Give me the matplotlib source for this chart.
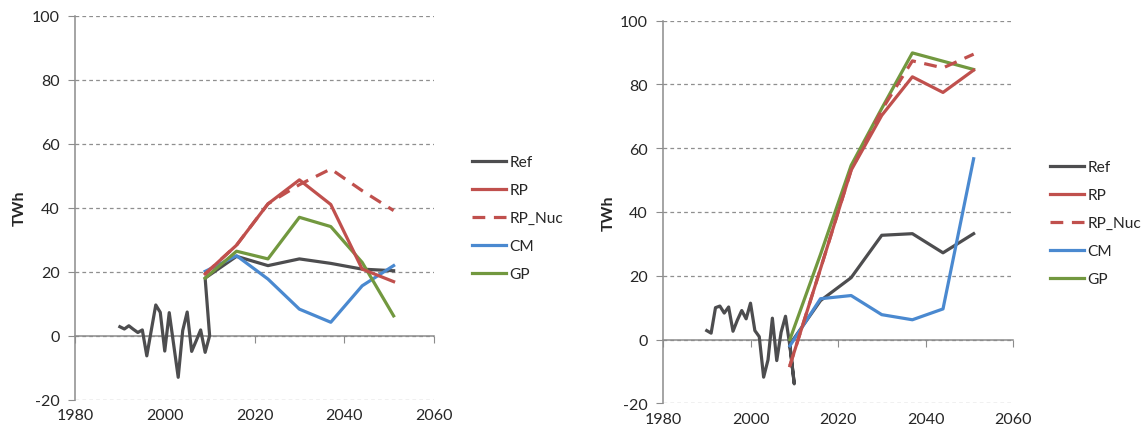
import numpy as np
import matplotlib
matplotlib.use("Agg")
import matplotlib.pyplot as plt

plt.rcParams['font.family'] = ['Lato', 'DejaVu Sans']
plt.rcParams['font.size'] = 11.5
plt.rcParams['axes.unicode_minus'] = False

# historical years and scenario years
hist_years = list(range(1990, 2011))
scen_years = [2009, 2016, 2023, 2030, 2037, 2044, 2051]

# left panel
left_hist = [2.8, 2.1, 3.1, 2.0, 1.0, 1.8, -6.3, 1.7, 9.6, 7.3, -4.8, 7.2, -2.9, -13.0,
             1.6, 7.4, -4.9, -1.6, 1.8, -5.2, 0.0]
left_ref = [18.0, 24.8, 21.9, 24.0, 22.6, 20.8, 20.3]
left_rp = [19.3, 28.3, 41.2, 48.7, 41.0, 20.8, 16.9]
left_rpnuc = [19.3, 28.3, 41.2, 47.2, 52.1, 45.3, 39.1]
left_cm = [20.1, 25.0, 17.7, 8.3, 4.2, 15.6, 21.9]
left_gp = [18.0, 26.4, 24.0, 37.0, 34.1, 22.9, 6.2]

# right panel
right_hist = [2.8, 2.0, 10.0, 10.5, 8.3, 10.2, 2.6, 6.1, 9.1, 6.5, 11.4, 2.8, 0.9, -11.8,
              -6.4, 6.7, -6.6, 2.3, 7.3, -2.0, -13.9]
right_ref = [-1.5, 12.2, 19.4, 32.7, 33.2, 27.2, 33.2]
right_rp = [-8.2, 22.2, 53.1, 70.3, 82.4, 77.5, 84.5]
right_rpnuc = [-8.2, 22.2, 53.1, 72.0, 87.4, 85.2, 89.5]
right_cm = [-2.0, 12.8, 13.8, 7.8, 6.2, 9.6, 56.7]
right_gp = [0.0, 26.7, 54.6, 72.5, 89.9, 87.3, 84.7]

xticks = [1980, 2000, 2020, 2040, 2060]
yticks = [-20, 0, 20, 40, 60, 80, 100]

c_ref = "#4d4d4f"
c_rp = "#c0504d"
c_cm = "#4a89d0"
c_gp = "#72983f"
lw = 2.3
txt = "#262626"
axc = "#8c8c8c"

W, H = 1148, 439
fig = plt.figure(figsize=(W / 100, H / 100), dpi=100)


def panel(rect, hist, ref, rp, rpnuc, cm, gp, leg_xy):
    ax = fig.add_axes(rect)
    ax.plot(hist_years + scen_years, hist + ref, color=c_ref, lw=lw, label="Ref", zorder=3)
    ax.plot(scen_years, rp, color=c_rp, lw=lw, label="RP", zorder=4)
    ax.plot(scen_years, rpnuc, color=c_rp, lw=lw, ls=(0, (4, 2.7)), label="RP_Nuc", zorder=4)
    ax.plot(scen_years, cm, color=c_cm, lw=lw, label="CM", zorder=3)
    ax.plot(scen_years, gp, color=c_gp, lw=lw, label="GP", zorder=3)

    ax.set_xlim(1980, 2060)
    ax.set_ylim(-20, 100)
    ax.set_yticks(yticks)
    ax.set_xticks(xticks)
    ax.grid(axis='y', color="#8f8f8f", ls=(0, (3, 2.5)), lw=0.9)
    ax.set_axisbelow(True)
    for s in ['top', 'right']:
        ax.spines[s].set_visible(False)
    ax.spines['bottom'].set_position(('data', 0))
    ax.spines['bottom'].set_color(axc)
    ax.spines['left'].set_color(axc)
    ax.spines['bottom'].set_linewidth(1.1)
    ax.spines['left'].set_linewidth(1.1)
    ax.tick_params(axis='x', direction='out', length=5, color=axc, labelbottom=False)
    ax.tick_params(axis='y', direction='out', length=5, color=axc, labelcolor=txt, pad=6)

    sec = ax.secondary_xaxis('bottom')
    sec.set_xticks(xticks)
    sec.spines['bottom'].set_visible(False)
    sec.tick_params(length=0, labelcolor=txt, pad=6)

    ax.set_ylabel("TWh", fontweight='bold', color=txt)
    ax.yaxis.set_label_coords(-0.135, 0.5)

    fig.legend(*ax.get_legend_handles_labels(), loc='upper left',
               bbox_to_anchor=(leg_xy[0] / W, 1 - leg_xy[1] / H),
               frameon=False, borderpad=0, borderaxespad=0,
               handlelength=2.2, handletextpad=0.2, labelspacing=0.9,
               labelcolor=txt, fontsize=11.2)
    return ax


panel([75 / W, 1 - 400.7 / H, 359 / W, 384 / H],
      left_hist, left_ref, left_rp, left_rpnuc, left_cm, left_gp, (472, 156))
panel([663 / W, 1 - 404.3 / H, 350 / W, 382.6 / H],
      right_hist, right_ref, right_rp, right_rpnuc, right_cm, right_gp, (1050, 161))

fig.savefig("out.png", dpi=100)
